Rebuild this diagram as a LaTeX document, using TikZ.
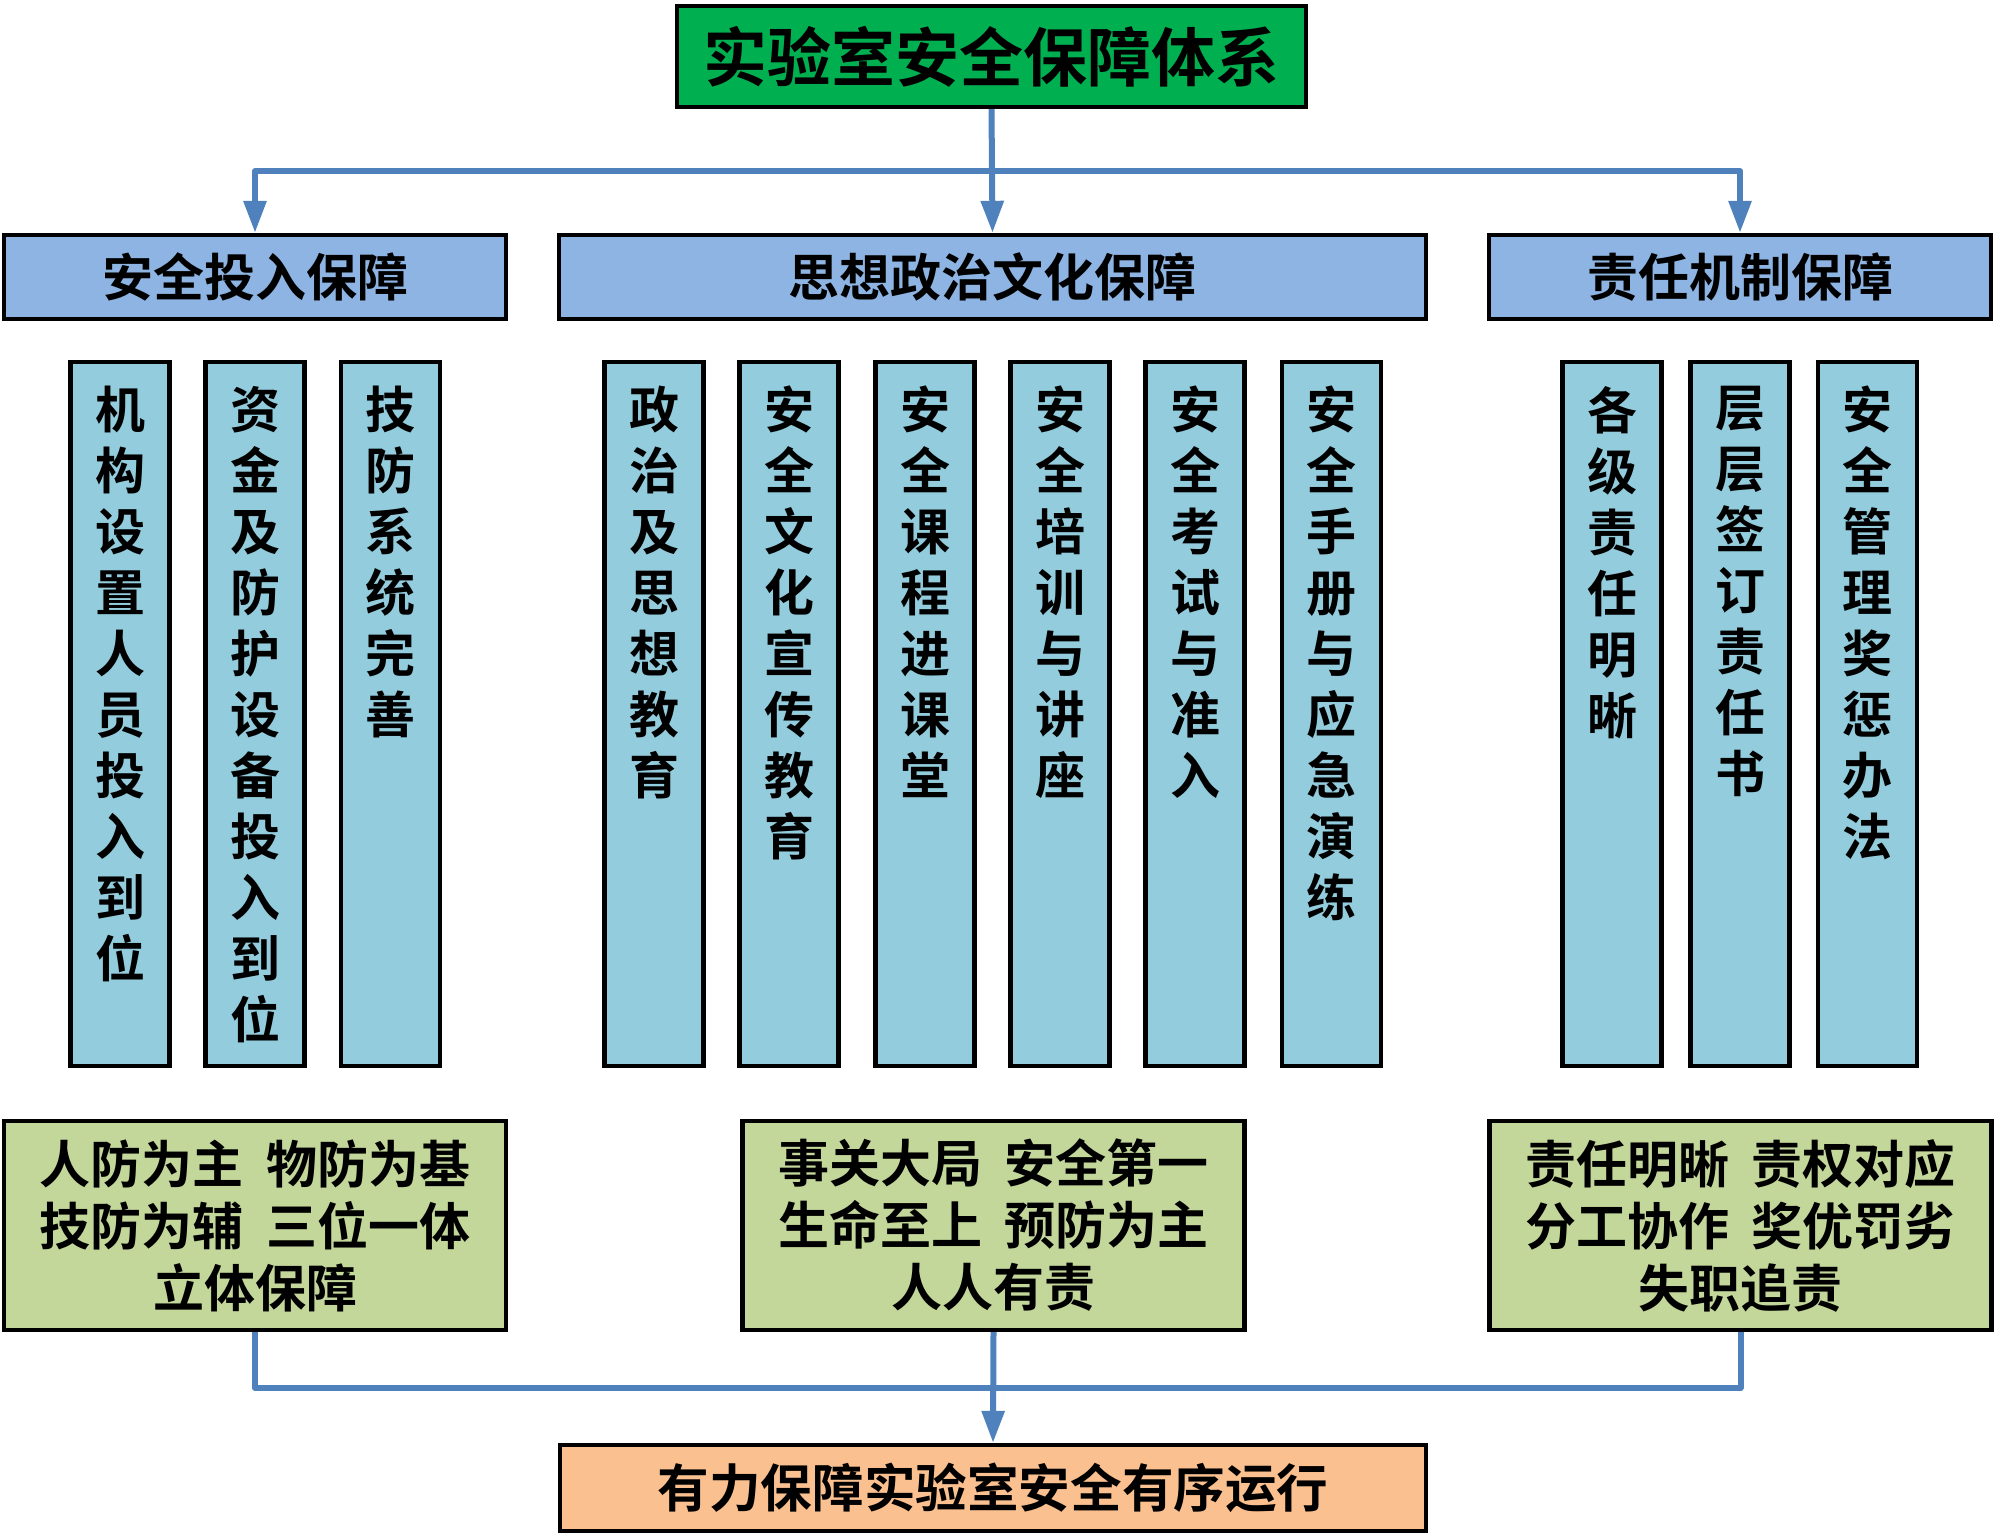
\documentclass[tikz,border=0pt]{standalone}
\usepackage{fontspec}
\setmainfont{Noto Sans CJK SC}[BoldFont={* Bold}]
\usetikzlibrary{arrows.meta}
\definecolor{cTop}{HTML}{00B050}
\definecolor{cRow}{HTML}{8DB4E2}
\definecolor{cVert}{HTML}{93CDDD}
\definecolor{cGreen}{HTML}{C4D79B}
\definecolor{cOrange}{HTML}{FAC090}
\definecolor{cLine}{HTML}{4F81BD}
\tikzset{
  x=0.5pt, y=-0.5pt,
  box/.style={draw=black, line width=2.2pt, inner sep=0pt, font=\bfseries},
  topbox/.style={box, fill=cTop, minimum width=314.5pt, minimum height=50.5pt, font=\bfseries\fontsize{32}{38}\selectfont},
  rowbox/.style={box, fill=cRow, minimum height=42pt, font=\bfseries\fontsize{25.5}{30}\selectfont},
  vbox/.style={box, fill=cVert, minimum width=49.5pt, minimum height=352pt},
  vtext/.style={anchor=north, align=center, inner sep=0pt, font=\bfseries\fontsize{25}{30.5}\selectfont},
  gbox/.style={box, fill=cGreen, minimum width=251pt, minimum height=104.5pt, align=center, font=\bfseries\fontsize{25.5}{31}\selectfont},
  obox/.style={box, fill=cOrange, minimum width=433pt, minimum height=43pt, font=\bfseries\fontsize{25.8}{30}\selectfont},
  conn/.style={draw=cLine, line width=3pt, line join=round},
  arr/.style={conn, -{Triangle[length=16pt,width=11pt]}},
}
\newcommand{\gsp}{\hspace{0.45em}}
\begin{document}
\begin{tikzpicture}
\useasboundingbox (0,0) rectangle (2000,1539);
% top
\node[topbox] (top) at (991.5,56.5) {实验室安全保障体系};
% row 2
\node[rowbox, minimum width=251pt] (L) at (255,277) {\raisebox{-2pt}{安全投入保障}};
\node[rowbox, minimum width=433.5pt] (M) at (992.5,277) {\raisebox{-2pt}{思想政治文化保障}};
\node[rowbox, minimum width=251pt] (R) at (1740,277) {\raisebox{-2pt}{责任机制保障}};
% vertical boxes
\foreach \n/\x/\t in {
  a1/120/{机\\构\\设\\置\\人\\员\\投\\入\\到\\位},
  a2/255/{资\\金\\及\\防\\护\\设\\备\\投\\入\\到\\位},
  a3/390.5/{技\\防\\系\\统\\完\\善},
  b1/654/{政\\治\\及\\思\\想\\教\\育},
  b2/789/{安\\全\\文\\化\\宣\\传\\教\\育},
  b3/925/{安\\全\\课\\程\\进\\课\\堂},
  b4/1060/{安\\全\\培\\训\\与\\讲\\座},
  b5/1195/{安\\全\\考\\试\\与\\准\\入},
  b6/1331.5/{安\\全\\手\\册\\与\\应\\急\\演\\练},
  c1/1612/{各\\级\\责\\任\\明\\晰},
  c2/1740/{层\\层\\签\\订\\责\\任\\书},
  c3/1867.5/{安\\全\\管\\理\\奖\\惩\\办\\法}}
{
  \node[vbox] (\n) at (\x,714) {};
  \node[vtext] (\n t) at ([yshift=-13pt]\n.north) {\t};
}
% green boxes
\node[gbox] (GL) at (255,1225.5) {人防为主\gsp 物防为基\\技防为辅\gsp 三位一体\\立体保障};
\node[gbox] (GM) at (993.5,1225.5) {事关大局\gsp 安全第一\\生命至上\gsp 预防为主\\人人有责};
\node[gbox] (GR) at (1740.5,1225.5) {责任明晰\gsp 责权对应\\分工协作\gsp 奖优罚劣\\失职追责};
% bottom
\node[obox] (O) at (993,1488) {有力保障实验室安全有序运行};
% connectors top
\coordinate (hy) at (992,171);
\draw[conn] (top.south) -- (hy);
\draw[arr] (hy) -- (M.north);
\draw[arr] (hy) -| (L.north);
\draw[arr] (hy) -| (R.north);
% connectors bottom
\coordinate (by) at (993.5,1388);
\draw[conn] (GL.south) |- (by);
\draw[conn] (GR.south) |- (by);
\draw[arr] (GM.south) -- (O.north);
\end{tikzpicture}
\end{document}
